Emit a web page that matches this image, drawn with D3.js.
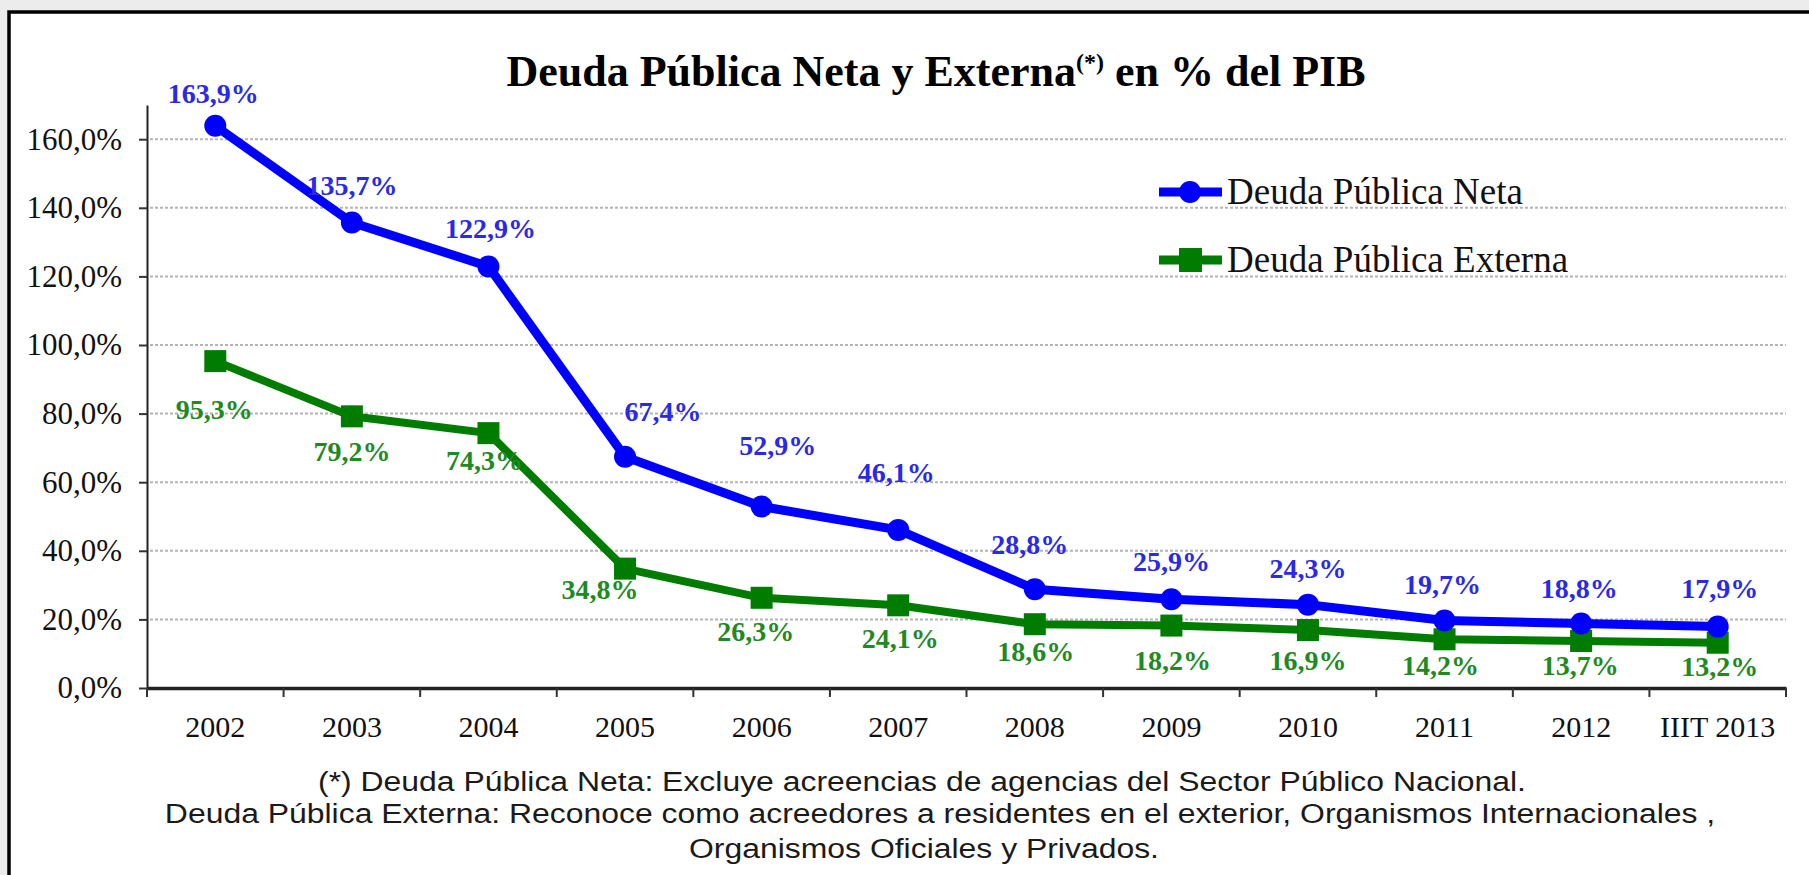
<!DOCTYPE html>
<html>
<head>
<meta charset="utf-8">
<script src="https://cdn.jsdelivr.net/npm/d3@7"></script>
<style>
  body { margin: 0; background: #ececec; }
  .tick line { stroke: #333; stroke-width: 2; }
  .grid line { stroke: #b4b4b4; stroke-width: 2; stroke-dasharray: 3 2; }
</style>
</head>
<body>
<div id="chart"></div>
<script>

// Data
const categories = ["2002", "2003", "2004", "2005", "2006", "2007", "2008", "2009", "2010", "2011", "2012", "IIIT 2013"];
const deudaNeta = [163.9, 135.7, 122.9, 67.4, 52.9, 46.1, 28.8, 25.9, 24.3, 19.7, 18.8, 17.9];
const deudaExterna = [95.3, 79.2, 74.3, 34.8, 26.3, 24.1, 18.6, 18.2, 16.9, 14.2, 13.7, 13.2];
const yTicks = [0, 20, 40, 60, 80, 100, 120, 140, 160];
const seriesNames = ["Deuda Pública Neta", "Deuda Pública Externa"];
const footnote = [
    "(*) Deuda Pública Neta: Excluye acreencias de agencias del Sector Público Nacional.",
    "Deuda Pública Externa: Reconoce como acreedores a residentes en el exterior, Organismos Internacionales ,",
    "Organismos Oficiales y Privados."
];

// label nudges [dx, dy] from the point (px), hand placed like in the original
const netaShift = [[-2, -32], [0, -37], [2, -38], [38, -45], [16, -61], [-2, -57], [-5, -44], [0, -37], [0, -36], [-2, -36], [-2, -35], [2, -38]];
const externaShift = [[-1, 49], [0, 35], [-4, 28], [-25, 21], [-6, 34], [2, 33], [1, 28], [1, 35], [0, 31], [-4, 26], [-1, 25], [2, 24]];

const W = 1809, H = 875;
const blue = "#0000ff", green = "#007d00";
const serif = "'Liberation Serif', 'Times New Roman', serif";

const svg = d3.select("#chart").append("svg")
    .attr("width", W)
    .attr("height", H);

// Frame
svg.append("rect")
    .attr("x", 9).attr("y", 12)
    .attr("width", W + 20).attr("height", H + 20)
    .attr("fill", "#fff")
    .attr("stroke", "#000")
    .attr("stroke-width", 3.5);

// Scales
const xScale = d3.scaleBand().domain(categories).range([147, 1786]);
const yScale = d3.scaleLinear().domain([0, 170]).range([688, 688 - 170 * 3.43]);
const xc = (c) => xScale(c) + xScale.bandwidth() / 2;

// Grid
svg.append("g")
    .attr("class", "grid")
    .selectAll("line")
    .data(yTicks.filter(d => d > 0))
    .enter().append("line")
    .attr("x1", 150).attr("x2", 1786)
    .attr("y1", d => yScale(d)).attr("y2", d => yScale(d));

// Y axis
const yAxis = svg.append("g")
    .attr("transform", "translate(147,0)")
    .call(d3.axisLeft(yScale)
        .tickValues(yTicks)
        .tickSize(8)
        .tickPadding(17)
        .tickSizeOuter(0)
        .tickFormat(d => d.toFixed(1).replace(".", ",") + "%"));
yAxis.select(".domain").attr("stroke", "#222").attr("stroke-width", 2);
yAxis.selectAll("text")
    .attr("font-family", serif)
    .attr("font-size", 31)
    .attr("fill", "#111");

// X axis (labels centred in bands, ticks between bands)
const xAxis = svg.append("g")
    .attr("transform", "translate(0,688)")
    .call(d3.axisBottom(xScale).tickSize(0).tickPadding(28).tickSizeOuter(0));
xAxis.select(".domain").attr("stroke", "#222").attr("stroke-width", 3.5);
xAxis.selectAll("text")
    .attr("font-family", serif)
    .attr("font-size", 30)
    .attr("fill", "#111");
xAxis.selectAll(".sep")
    .data(categories.map(c => xScale(c)).concat([xScale.range()[1]]))
    .enter().append("line")
    .attr("class", "sep")
    .attr("x1", d => d).attr("x2", d => d)
    .attr("y1", 0).attr("y2", 9)
    .attr("stroke", "#333")
    .attr("stroke-width", 2);

// Lines
const line = d3.line()
    .x((d, i) => xc(categories[i]))
    .y(d => yScale(d));

svg.append("path")
    .datum(deudaExterna)
    .attr("d", line)
    .attr("fill", "none")
    .attr("stroke", green)
    .attr("stroke-width", 8)
    .attr("stroke-linejoin", "round");

svg.append("path")
    .datum(deudaNeta)
    .attr("d", line)
    .attr("fill", "none")
    .attr("stroke", blue)
    .attr("stroke-width", 9)
    .attr("stroke-linejoin", "round");

// Markers
svg.selectAll(".sq")
    .data(deudaExterna)
    .enter().append("rect")
    .attr("class", "sq")
    .attr("x", (d, i) => xc(categories[i]) - 11)
    .attr("y", d => yScale(d) - 11)
    .attr("width", 22).attr("height", 22)
    .attr("fill", green);

svg.selectAll(".dot")
    .data(deudaNeta)
    .enter().append("circle")
    .attr("class", "dot")
    .attr("cx", (d, i) => xc(categories[i]))
    .attr("cy", d => yScale(d))
    .attr("r", 11)
    .attr("fill", blue);

// Value labels
const fmt = (d) => d.toFixed(1).replace(".", ",") + "%";

svg.selectAll(".lblNeta")
    .data(deudaNeta)
    .enter().append("text")
    .attr("class", "lblNeta")
    .attr("x", (d, i) => xc(categories[i]) + netaShift[i][0])
    .attr("y", (d, i) => yScale(d) + netaShift[i][1])
    .attr("dy", "0.33em")
    .attr("text-anchor", "middle")
    .attr("font-family", serif)
    .attr("font-weight", "bold")
    .attr("font-size", 28)
    .attr("fill", "#2a2ae6")
    .text(fmt);

svg.selectAll(".lblExt")
    .data(deudaExterna)
    .enter().append("text")
    .attr("class", "lblExt")
    .attr("x", (d, i) => xc(categories[i]) + externaShift[i][0])
    .attr("y", (d, i) => yScale(d) + externaShift[i][1])
    .attr("dy", "0.33em")
    .attr("text-anchor", "middle")
    .attr("font-family", serif)
    .attr("font-weight", "bold")
    .attr("font-size", 28)
    .attr("fill", "#1f8a1f")
    .text(fmt);

// Title
const title = svg.append("text")
    .attr("x", 936)
    .attr("y", 86)
    .attr("text-anchor", "middle")
    .attr("font-family", serif)
    .attr("font-weight", "bold")
    .attr("font-size", 44)
    .attr("fill", "#000");
title.append("tspan").text("Deuda Pública Neta y Externa");
title.append("tspan").attr("font-size", 24).attr("dy", -16).text("(*)");
title.append("tspan").attr("dy", 16).text(" en % del PIB");

// Legend
const legend = svg.append("g");
[0, 1].forEach(i => {
    const ly = 192 + i * 68;
    const col = i === 0 ? blue : green;
    legend.append("line")
        .attr("x1", 1159).attr("x2", 1222)
        .attr("y1", ly).attr("y2", ly)
        .attr("stroke", col)
        .attr("stroke-width", 9);
    if (i === 0) {
        legend.append("circle").attr("cx", 1190).attr("cy", ly).attr("r", 11).attr("fill", col);
    } else {
        legend.append("rect").attr("x", 1179).attr("y", ly - 12).attr("width", 23).attr("height", 24).attr("fill", col);
    }
    legend.append("text")
        .attr("x", 1227)
        .attr("y", ly + 12)
        .attr("font-family", serif)
        .attr("font-size", 37)
        .attr("fill", "#111")
        .text(seriesNames[i]);
});

// Footnote (the original type is wide for its height, so stretch it a bit)
svg.selectAll(".note")
    .data(footnote)
    .enter().append("text")
    .attr("class", "note")
    .attr("transform", (d, i) => "translate(" + [922, 940, 924][i] + "," + [791, 823, 858][i] + ") scale(1.14,1)")
    .attr("text-anchor", "middle")
    .attr("font-family", "'Liberation Sans', Arial, sans-serif")
    .attr("font-size", 28)
    .attr("fill", "#1a1a1a")
    .text(d => d);

</script>
</body>
</html>
